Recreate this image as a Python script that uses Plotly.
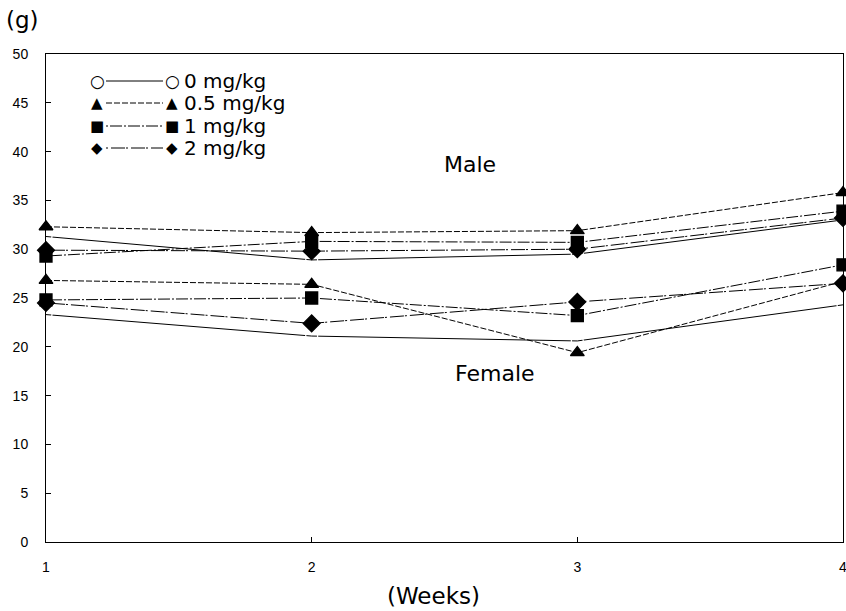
import plotly.graph_objects as go

weeks = [1, 2, 3, 4]
doses = ["0 mg/kg", "0.5 mg/kg", "1 mg/kg", "2 mg/kg"]

male_0 = [31.3, 28.9, 29.5, 33.0]
male_05 = [32.3, 31.7, 31.9, 35.8]
male_1 = [29.3, 30.8, 30.7, 33.9]
male_2 = [29.9, 29.8, 30.0, 33.2]

female_0 = [23.3, 21.1, 20.6, 24.3]
female_05 = [26.8, 26.4, 19.4, 26.7]
female_1 = [24.8, 25.0, 23.2, 28.4]
female_2 = [24.5, 22.4, 24.6, 26.5]

y_ticks = [0, 5, 10, 15, 20, 25, 30, 35, 40, 45, 50]
x_ticks = [1, 2, 3, 4]

symbols = ["circle-open", "triangle-up", "square", "diamond"]
glyphs = ["○", "▲", "■", "◆"]
dashes = ["solid", "6px,2px", "2px,2px,12px,2px", "2px,3px,14px,1px"]

male = [male_0, male_05, male_1, male_2]
female = [female_0, female_05, female_1, female_2]

fig = go.Figure()
for i in range(4):
    for series in (male[i], female[i]):
        fig.add_trace(go.Scatter(
            x=weeks, y=series, mode="lines+markers",
            line=dict(color="black", width=1, dash=dashes[i]),
            marker=dict(symbol=symbols[i], size=12 if i != 3 else 13,
                        color="white" if i == 0 else "black",
                        line=dict(color="black", width=1.3)),
            showlegend=False, cliponaxis=False,
        ))

# custom legend (paper coordinates)
x0, x1 = 46, 843
y0, y1 = 542, 54
def px(v):
    return (v - x0) / (x1 - x0)
def py(v):
    return (y0 - v) / (y0 - y1)

rows = [81, 103, 126, 148]
for i, r in enumerate(rows):
    fig.add_shape(type="line", xref="paper", yref="paper",
                  x0=px(106), x1=px(163), y0=py(r), y1=py(r),
                  line=dict(color="black", width=1, dash=dashes[i]))
    for gx in (97, 172):
        fig.add_annotation(xref="paper", yref="paper", x=px(gx), y=py(r),
                           xanchor="center", yanchor="middle",
                           text=glyphs[i], showarrow=False,
                           font=dict(family="DejaVu Sans", size=15 if i != 0 else 17, color="black"))
    fig.add_annotation(xref="paper", yref="paper", x=px(182), y=py(r),
                       xanchor="left", yanchor="middle", text=doses[i], showarrow=False,
                       font=dict(family="DejaVu Sans", size=20, color="black"))

fig.add_annotation(xref="paper", yref="paper", x=px(470), y=py(165),
                   xanchor="center", yanchor="middle",
                   text="Male", showarrow=False,
                   font=dict(family="DejaVu Sans", size=22, color="black"))
fig.add_annotation(xref="paper", yref="paper", x=px(495), y=py(373),
                   xanchor="center", yanchor="middle",
                   text="Female", showarrow=False,
                   font=dict(family="DejaVu Sans", size=22, color="black"))
fig.add_annotation(xref="paper", yref="paper", x=px(4), y=py(20),
                   xanchor="left", yanchor="middle", text="(g)", showarrow=False,
                   font=dict(family="DejaVu Sans", size=23, color="black"))
fig.add_annotation(xref="paper", yref="paper", x=px(433), y=py(596),
                   xanchor="center", yanchor="middle",
                   text="(Weeks)", showarrow=False,
                   font=dict(family="DejaVu Sans", size=23, color="black"))

fig.update_xaxes(range=[1, 4], tickvals=x_ticks, ticktext=[str(t) for t in x_ticks],
                 showgrid=False, zeroline=False, showline=True, mirror=True,
                 linecolor="black", linewidth=1, ticks="inside", ticklen=5,
                 tickcolor="black", ticklabelstandoff=12, ticklabeloverflow="allow",
                 tickfont=dict(family="Liberation Sans", size=14, color="black"))
fig.update_yaxes(range=[0, 50], tickvals=y_ticks,
                 showgrid=False, zeroline=False, showline=True, mirror=True,
                 linecolor="black", linewidth=1, ticks="inside", ticklen=5,
                 tickcolor="black", ticklabelstandoff=14,
                 tickfont=dict(family="Liberation Sans", size=14, color="black"))

fig.update_layout(width=846, height=611, plot_bgcolor="white", paper_bgcolor="white",
                  margin=dict(l=46, r=3, t=54, b=69, autoexpand=False), showlegend=False)

fig.write_html("out.html", config={"displayModeBar": False},
               post_script="document.body.style.margin='0';document.body.style.overflow='hidden';")
